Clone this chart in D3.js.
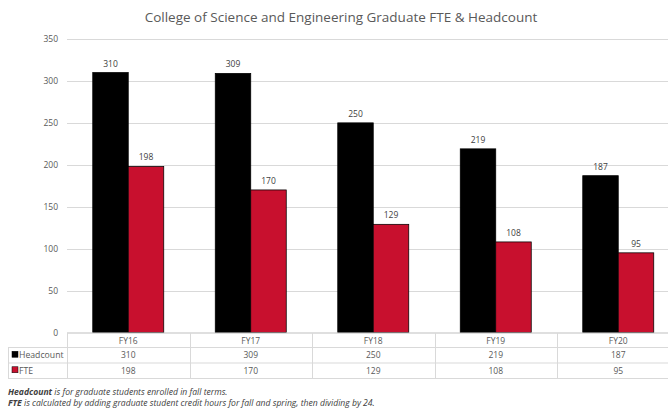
<!DOCTYPE html>
<html>
<head>
<meta charset="utf-8">
<script src="https://cdn.jsdelivr.net/npm/d3@7"></script>
<style>
  body { margin: 0; background: #fff; }
  text { font-family: "Open Sans", sans-serif; }
</style>
</head>
<body>
<div id="chart"></div>
<script>
var years = ['FY16', 'FY17', 'FY18', 'FY19', 'FY20']
var headcount = [310, 309, 250, 219, 187]
var fte = [198, 170, 129, 108, 95]
var yTicks = [0, 50, 100, 150, 200, 250, 300, 350]
var seriesNames = ['Headcount', 'FTE']
var seriesColors = ['#000000', '#c8102e']

var W = 668, H = 408
var svg = d3.select('#chart').append('svg').attr('width', W).attr('height', H)

var x = d3.scaleBand().domain(years).range([67, 679.5])
var y = d3.scaleLinear().domain([0, 350]).range([332.5, 39])
var inner = d3.scaleBand().domain(seriesNames).range([0, 71])
var off = (x.bandwidth() - 71) / 2

svg.append('text')
  .attr('x', 341).attr('y', 22)
  .attr('text-anchor', 'middle')
  .attr('font-size', 13.5)
  .attr('fill', '#595959')
  .text('College of Science and Engineering Graduate FTE & Headcount')

// gridlines
svg.append('g').selectAll('line').data(yTicks.slice(1)).join('line')
  .attr('x1', 67).attr('x2', W)
  .attr('y1', d => Math.round(y(d)) + 0.5).attr('y2', d => Math.round(y(d)) + 0.5)
  .attr('stroke', '#d9d9d9')

svg.append('g').selectAll('text').data(yTicks).join('text')
  .attr('x', 58).attr('y', d => y(d) + 3)
  .attr('text-anchor', 'end')
  .attr('font-size', 8.5)
  .attr('fill', '#595959')
  .text(d => d)

var series = [headcount, fte]
series.forEach(function(vals, si){
  var g = svg.append('g')
  g.selectAll('rect').data(years).join('rect')
    .attr('x', (d) => x(d) + off + inner(seriesNames[si]))
    .attr('width', inner.bandwidth())
    .attr('y', (d, i) => y(vals[i]))
    .attr('height', (d, i) => y(0) - y(vals[i]))
    .attr('fill', seriesColors[si])
    .attr('stroke', '#000')
    .attr('stroke-width', 0.75)
  g.selectAll('text').data(years).join('text')
    .attr('x', (d) => x(d) + off + inner(seriesNames[si]) + inner.bandwidth() / 2)
    .attr('y', (d, i) => y(vals[i]) - 6)
    .attr('text-anchor', 'middle')
    .attr('font-size', 8.5)
    .attr('fill', '#404040')
    .text((d, i) => vals[i])
})

// data table
var rowY = [332.5, 347.5, 363, 378.5]
var tbl = svg.append('g').attr('stroke', '#d9d9d9').attr('fill', 'none')
tbl.append('line').attr('x1', 67).attr('x2', W).attr('y1', 333).attr('y2', 333).attr('stroke', '#bfbfbf')
rowY.slice(1).forEach(function(ry){
  tbl.append('line').attr('x1', 8).attr('x2', W).attr('y1', ry).attr('y2', ry)
})
tbl.append('line').attr('x1', 8.5).attr('x2', 8.5).attr('y1', rowY[1]).attr('y2', rowY[3])
years.forEach(function(d){
  tbl.append('line').attr('x1', Math.round(x(d)) + 0.5).attr('x2', Math.round(x(d)) + 0.5)
    .attr('y1', 333).attr('y2', rowY[3])
})

svg.append('g').selectAll('text').data(years).join('text')
  .attr('x', d => x(d) + x.bandwidth() / 2).attr('y', 343.5)
  .attr('text-anchor', 'middle').attr('font-size', 8.5).attr('fill', '#595959')
  .text(d => d)

series.forEach(function(vals, si){
  var ty = (rowY[si + 1] + rowY[si + 2]) / 2 + 3
  svg.append('rect').attr('x', 12).attr('y', ty - 7).attr('width', 6).attr('height', 6)
    .attr('fill', seriesColors[si]).attr('stroke', '#000').attr('stroke-width', 0.5)
  svg.append('text').attr('x', 19).attr('y', ty).attr('font-size', 8.7).attr('fill', '#595959')
    .text(seriesNames[si])
  svg.append('g').selectAll('text').data(years).join('text')
    .attr('x', d => x(d) + x.bandwidth() / 2).attr('y', ty)
    .attr('text-anchor', 'middle').attr('font-size', 8.5).attr('fill', '#595959')
    .text((d, i) => vals[i])
})

// footnotes
var n1 = svg.append('text').attr('x', 8).attr('y', 395).attr('font-size', 8.6)
  .attr('font-style', 'italic').attr('fill', '#404040')
n1.append('tspan').attr('font-weight', 'bold').text('Headcount')
n1.append('tspan').text(' is for graduate students enrolled in fall terms.')
var n2 = svg.append('text').attr('x', 8).attr('y', 406).attr('font-size', 8.6)
  .attr('font-style', 'italic').attr('fill', '#404040')
n2.append('tspan').attr('font-weight', 'bold').text('FTE')
n2.append('tspan').text(' is calculated by adding graduate student credit hours for fall and spring, then dividing by 24.')
</script>
</body>
</html>
